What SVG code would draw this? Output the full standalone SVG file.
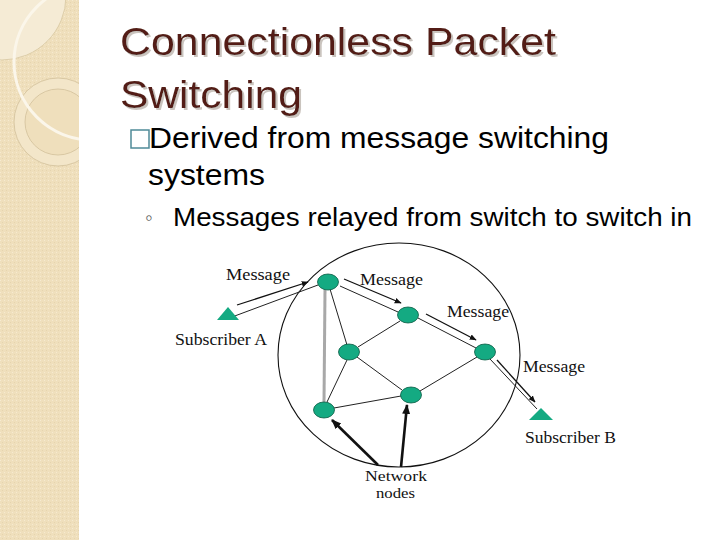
<svg xmlns="http://www.w3.org/2000/svg" width="720" height="540" viewBox="0 0 720 540">
<defs>
<style>
.title{font-family:"Liberation Sans",Arial,sans-serif;font-size:38px;fill:#521f16}
.body{font-family:"Liberation Sans",Arial,sans-serif;fill:#000}
.lbl{font-family:"Liberation Serif","Times New Roman",serif;font-size:17px;fill:#111}
.node{fill:#14aa82;stroke:#0b5c44;stroke-width:0.8}
.edge{stroke:#222;stroke-width:1;fill:none}
.msg{stroke:#111;stroke-width:1.3;fill:none}
.ptr{stroke:#111;stroke-width:2.6;fill:none}
</style>
<filter id="shadow" x="-5%" y="-20%" width="110%" height="140%"><feDropShadow dx="2" dy="2" stdDeviation="0.6" flood-color="#bdb5ad" flood-opacity="0.8"/></filter>
<marker id="ah" viewBox="0 0 10 10" refX="9" refY="5" markerWidth="7" markerHeight="7" markerUnits="userSpaceOnUse" orient="auto"><path d="M0,1 L10,5 L0,9 Z" fill="#111"/></marker>
<marker id="ah2" viewBox="0 0 10 10" refX="9" refY="5" markerWidth="10" markerHeight="10" markerUnits="userSpaceOnUse" orient="auto"><path d="M0,1 L10,5 L0,9 Z" fill="#111"/></marker>
<pattern id="tex" width="4" height="4" patternUnits="userSpaceOnUse"><rect width="4" height="4" fill="#efdfbc"/><rect x="0" y="0" width="1" height="1" fill="#f6ead0"/><rect x="2" y="2" width="1" height="1" fill="#e6d4ae"/></pattern>
<clipPath id="band"><rect x="0" y="0" width="79" height="540"/></clipPath>
</defs>
<rect width="720" height="540" fill="#ffffff"/>
<g id="sidebar" clip-path="url(#band)">
<rect x="0" y="0" width="79" height="540" fill="url(#tex)"/>
<circle cx="2" cy="-4" r="64" fill="#f5ebd5" stroke="#d7c6a0" stroke-width="0.8"/>
<circle cx="58" cy="122" r="44" fill="#f3e6c9" stroke="#d2c09a" stroke-width="0.8"/>
<circle cx="58" cy="122" r="33" fill="#efdfbc" stroke="#d2c09a" stroke-width="0.8"/>
<circle cx="92" cy="62" r="78" fill="none" stroke="#fbf6ea" stroke-width="3"/>
</g>
<g id="title" filter="url(#shadow)">
<text class="title" x="120" y="55" textLength="436" lengthAdjust="spacingAndGlyphs">Connectionless Packet</text>
<text class="title" x="120" y="108" textLength="182" lengthAdjust="spacingAndGlyphs">Switching</text>
</g>
<g id="bullets">
<rect x="131" y="130" width="18" height="18" fill="none" stroke="#4f8a98" stroke-width="1.5"/>
<text class="body" x="149" y="148" font-size="29" textLength="460" lengthAdjust="spacingAndGlyphs">Derived from message switching</text>
<text class="body" x="148" y="185" font-size="29" textLength="117" lengthAdjust="spacingAndGlyphs">systems</text>
<text class="body" x="145" y="225" font-size="22" style="fill:#666">◦</text>
<text class="body" x="173" y="226" font-size="25" textLength="519" lengthAdjust="spacingAndGlyphs">Messages relayed from switch to switch in</text>
</g>
<g id="network-boundary">
<ellipse cx="399" cy="355" rx="121" ry="112" fill="none" stroke="#111" stroke-width="1.1"/>
</g>
<g id="connectors">
<line x1="325" y1="290" x2="324" y2="402" stroke="#a8a8a8" stroke-width="3"/>
<line class="edge" x1="330" y1="289" x2="347" y2="345"/>
<line class="edge" x1="340" y1="286" x2="398" y2="312"/>
<line class="edge" x1="400" y1="321" x2="358" y2="347"/>
<line class="edge" x1="347" y1="360" x2="327" y2="402"/>
<line class="edge" x1="357" y1="357" x2="402" y2="390"/>
<line class="edge" x1="334" y1="408" x2="401" y2="396"/>
<line class="edge" x1="420" y1="391" x2="477" y2="357"/>
<line class="edge" x1="418" y1="318" x2="476" y2="348"/>
<line class="edge" x1="232" y1="317" x2="318" y2="285"/>
<line class="edge" x1="490" y1="359" x2="537" y2="409"/>
<line class="msg" x1="237" y1="305" x2="308" y2="282" marker-end="url(#ah)"/>
<line class="msg" x1="344" y1="279" x2="401" y2="303" marker-end="url(#ah)"/>
<line class="msg" x1="426" y1="314" x2="476" y2="340" marker-end="url(#ah)"/>
<line class="msg" x1="497" y1="360" x2="535" y2="402" marker-end="url(#ah)"/>
<line class="ptr" x1="378" y1="465" x2="332" y2="420" marker-end="url(#ah2)"/>
<line class="ptr" x1="401" y1="467" x2="407" y2="405" marker-end="url(#ah2)"/>
</g>
<g id="node-1"><ellipse class="node" cx="328" cy="282" rx="10.5" ry="8"/></g>
<g id="node-2"><ellipse class="node" cx="408" cy="315" rx="10.5" ry="8"/></g>
<g id="node-3"><ellipse class="node" cx="349" cy="352" rx="10.5" ry="8"/></g>
<g id="node-4"><ellipse class="node" cx="324" cy="410" rx="10.5" ry="8"/></g>
<g id="node-5"><ellipse class="node" cx="411" cy="395" rx="10.5" ry="8"/></g>
<g id="node-6"><ellipse class="node" cx="485" cy="352" rx="10.5" ry="8"/></g>
<g id="subscriber-a">
<polygon points="228,307 217,320 239,320" fill="#14aa82"/>
<text class="lbl" x="175" y="345" textLength="92" lengthAdjust="spacingAndGlyphs">Subscriber A</text>
</g>
<g id="subscriber-b">
<polygon points="541,408 529,420 553,420" fill="#14aa82"/>
<text class="lbl" x="525" y="443" textLength="91" lengthAdjust="spacingAndGlyphs">Subscriber B</text>
</g>
<g id="labels">
<text class="lbl" x="226" y="280" textLength="64" lengthAdjust="spacingAndGlyphs">Message</text>
<text class="lbl" x="360" y="285" textLength="63" lengthAdjust="spacingAndGlyphs">Message</text>
<text class="lbl" x="447" y="317" textLength="62" lengthAdjust="spacingAndGlyphs">Message</text>
<text class="lbl" x="523" y="372" textLength="62" lengthAdjust="spacingAndGlyphs">Message</text>
<text class="lbl" x="365" y="481" font-size="15" style="font-size:15px" textLength="62" lengthAdjust="spacingAndGlyphs">Network</text>
<text class="lbl" x="376" y="498" font-size="15" style="font-size:15px" textLength="39" lengthAdjust="spacingAndGlyphs">nodes</text>
</g>
</svg>
